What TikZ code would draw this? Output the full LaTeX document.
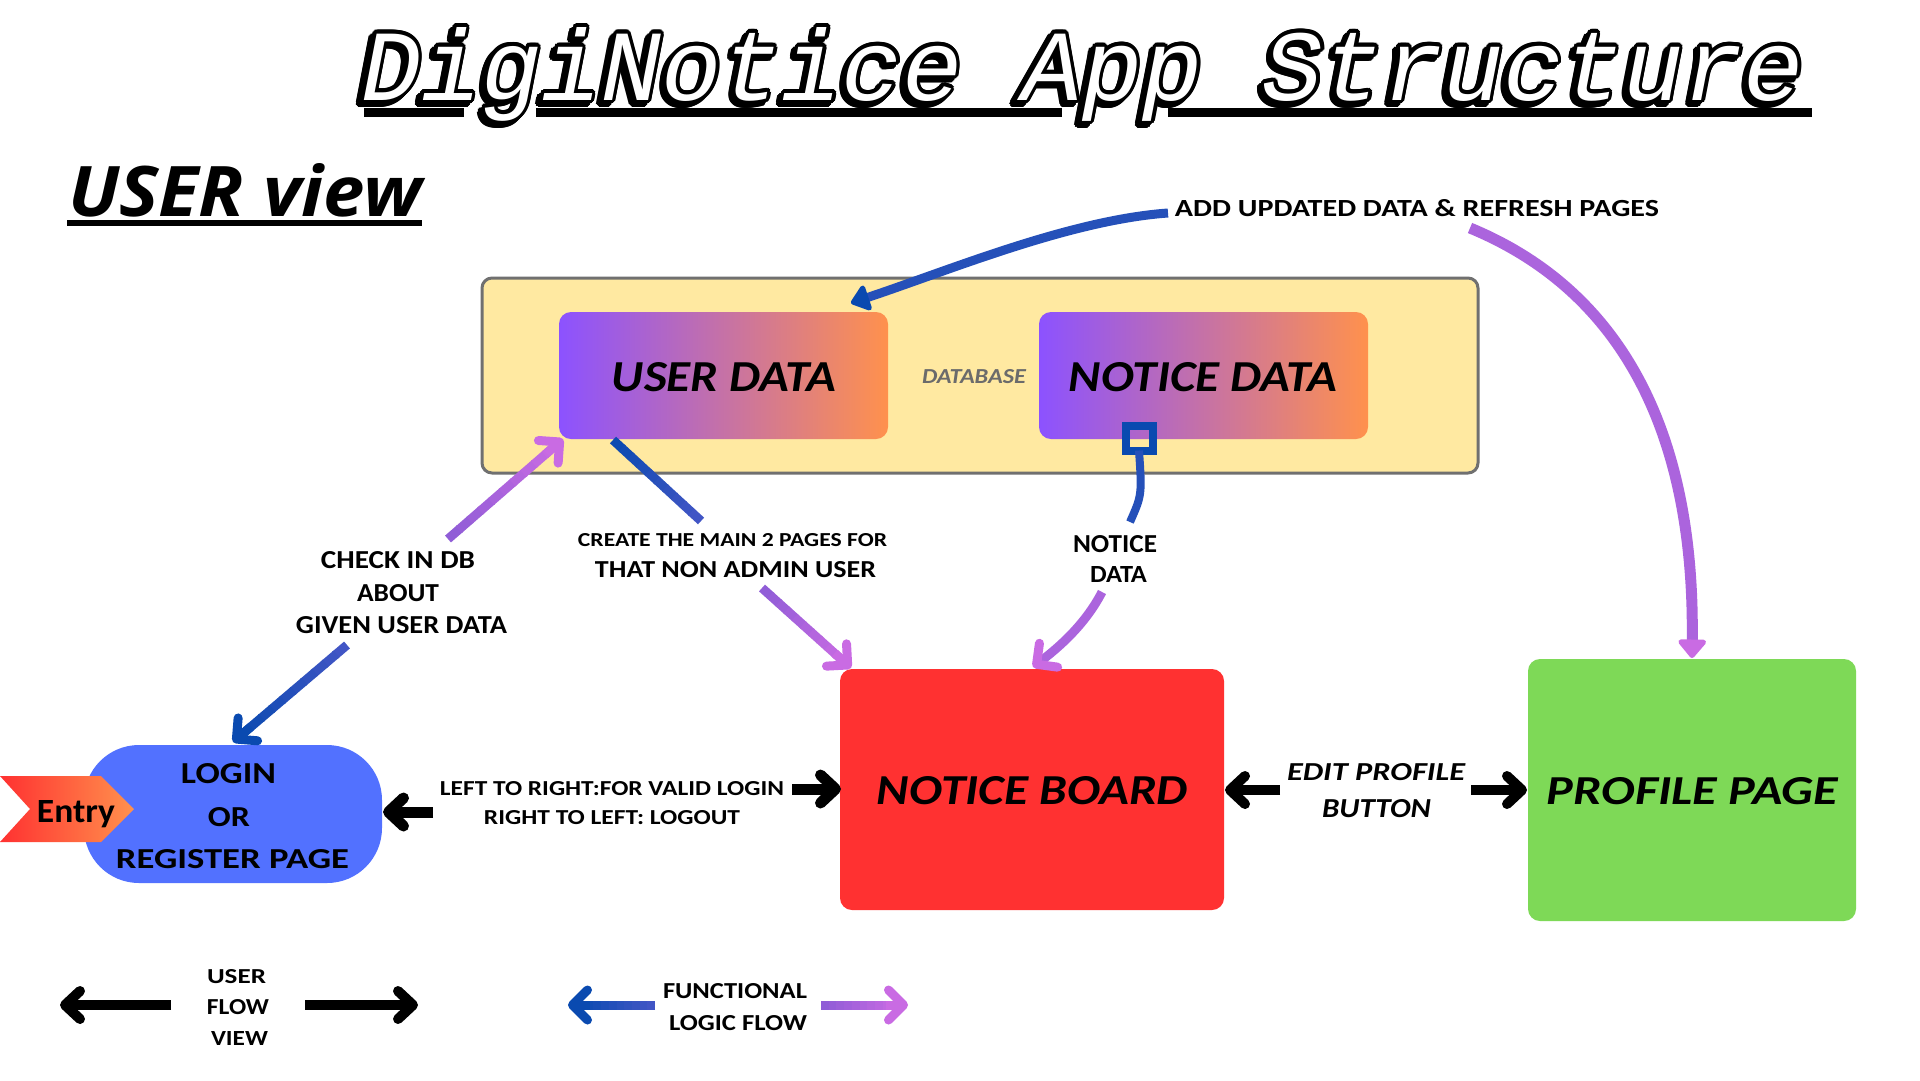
\documentclass[tikz,border=0pt]{standalone}
\usepackage{fontspec}
\usepackage{graphicx}
\usetikzlibrary{arrows.meta,calc}
\newfontfamily\fcal{Carlito}
\newfontfamily\fmono{Liberation Mono}
\newfontfamily\fopen{Open Sans}
\newcommand\FB{\fcal\bfseries}
\newcommand\FBI{\fcal\bfseries\itshape}
\definecolor{dbfill}{HTML}{FFE9A1}
\definecolor{dbgray}{HTML}{707070}
\definecolor{dbtext}{HTML}{6B6B6B}
\definecolor{gpurple}{HTML}{8C52FF}
\definecolor{gorange}{HTML}{FF914D}
\definecolor{nbred}{HTML}{FF3131}
\definecolor{ppgreen}{HTML}{7ED957}
\definecolor{lgblue}{HTML}{5271FF}
\definecolor{blueD}{HTML}{0A4AB0}
\definecolor{blueL}{HTML}{4456C6}
\definecolor{blueM}{HTML}{2550B9}
\definecolor{purA}{HTML}{8D5CD6}
\definecolor{purB}{HTML}{C96BE3}
\definecolor{purM}{HTML}{AB64DD}
\tikzset{
  txt/.style={anchor=base,inner sep=0pt,outer sep=0pt},
  box/.style={rectangle,inner sep=0pt,outer sep=0pt},
  blkarrow/.style={line width=11pt,draw=black,-{Straight Barb[length=15pt,width=28pt,round]}},
  barbtip/.style={-{Straight Barb[length=15pt,width=30pt,round]}},
}
\newcommand\lbl[6]{\node[txt] (#1) at (#2,#3) {\resizebox{#4pt}{#5pt}{#6}};}
\newcommand\gline[5]{%
  \foreach \i in {0,...,9}{%
    \pgfmathsetmacro\ta{\i/10}%
    \pgfmathsetmacro\tb{(\i+1)/10+0.012}%
    \pgfmathsetmacro\pc{95-\i*10}%
    \draw[line width=#5,draw={#3!\pc!#4}] ($(#1)!\ta!(#2)$) -- ($(#1)!\tb!(#2)$);
  }%
}
\newcommand\garrow[6]{%
  \coordinate (gtmp) at ($(#2)!10pt!(#1)$);
  \gline{#1}{gtmp}{#3}{#4}{#5}
  \draw[line width=#5,draw=#4,#6] ($(#2)!22pt!(#1)$) -- (#2);
}
\newcommand\TitleTxt{\resizebox{1443pt}{73pt}{\fmono\itshape\fontsize{100}{100}\selectfont DigiNotice App Structure}}
\begin{document}
\begin{tikzpicture}[x=1pt,y=-1pt]
\useasboundingbox (0,0) rectangle (1920,1080);
\fill[white] (0,0) rectangle (1920,1080);

% ---- title ----
\draw[line width=9pt] (364,112) -- (464,112);
\draw[line width=9pt] (536,112) -- (1062,112);
\draw[line width=9pt] (1168,112) -- (1812,112);
\foreach \a in {0,22.5,...,337.5}{\node[txt,anchor=base west,text=black] (tsh\a) at ($(357,104)+(\a:3.5)$) {\TitleTxt};}
\foreach \a in {0,22.5,...,337.5}{\node[txt,anchor=base west,text=black] (tol\a) at ($(361,100)+(\a:3.5)$) {\TitleTxt};}
\node[txt,anchor=base west,text=white] (title) at (361,100) {\TitleTxt};

% ---- USER view ----
\lbl{uview}{245}{216}{354}{53}{\fopen\bfseries\itshape USER view}
\draw[line width=6pt] (67,223) -- (422,223);

% ---- database ----
\node[box,fill=dbfill,draw=dbgray,line width=3pt,rounded corners=10pt,minimum width=996pt,minimum height=195pt] (db) at (980,375.5) {};
\node[box,left color=gpurple,right color=gorange,rounded corners=12pt,minimum width=329pt,minimum height=127pt] (ud) at (723.5,375.5) {};
\node[box,left color=gpurple,right color=gorange,rounded corners=12pt,minimum width=329pt,minimum height=127pt] (nd) at (1203.5,375.5) {};
\lbl{udl}{724}{391}{224}{29}{\FBI USER DATA}
\lbl{ndl}{1203}{391}{268}{29}{\FBI NOTICE DATA}
\lbl{dbl}{974}{383}{104}{14}{\color{dbtext}\FBI DATABASE}

% ---- main pages ----
\node[box,fill=nbred,rounded corners=12pt,minimum width=384pt,minimum height=241pt] (nb) at (1032,789.5) {};
\lbl{nbl}{1032.5}{804}{311}{28}{\FBI NOTICE BOARD}
\node[box,fill=ppgreen,rounded corners=12pt,minimum width=328pt,minimum height=262pt] (pp) at (1692,790) {};
\lbl{ppl}{1692.5}{804}{291}{27}{\FBI PROFILE PAGE}
\node[box,fill=lgblue,rounded corners=55pt,minimum width=298pt,minimum height=138pt] (login) at (233,814) {};
\lbl{lg1}{228.5}{783}{95}{20}{\FB LOGIN}
\lbl{lg2}{229}{826}{42}{19}{\FB OR}
\lbl{lg3}{232.5}{868}{233}{19}{\FB REGISTER PAGE}

% ---- entry tag ----
\path[left color=nbred,right color=gorange] (0,776) -- (101,776) -- (134,809) -- (101,842) -- (0,842) -- (30,809) -- cycle;
\lbl{entry}{76}{822}{78}{22}{\FB Entry}

% ---- labels ----
\lbl{add}{1417}{216}{484}{17}{\FB ADD UPDATED DATA \& REFRESH PAGES}
\lbl{ck1}{398}{568}{154}{17}{\FB CHECK IN DB}
\lbl{ck2}{398}{601}{82}{17}{\FB ABOUT}
\lbl{ck3}{401.5}{633}{211}{17}{\FB GIVEN USER DATA}
\lbl{cr1}{732.5}{546}{309}{13}{\FB CREATE THE MAIN 2 PAGES FOR}
\lbl{cr2}{735.5}{577}{281}{16}{\FB THAT NON ADMIN USER}
\lbl{nt1}{1115}{552}{84}{17}{\FB NOTICE}
\lbl{nt2}{1118.5}{582}{57}{16}{\FB DATA}
\lbl{lr1}{612}{795}{344}{14}{\FB LEFT TO RIGHT:FOR VALID LOGIN}
\lbl{lr2}{612}{824}{256}{14}{\FB RIGHT TO LEFT: LOGOUT}
\lbl{ep1}{1376}{780}{178}{17}{\FBI EDIT PROFILE}
\lbl{ep2}{1376.5}{817}{109}{18}{\FBI BUTTON}
\lbl{uf1}{236.5}{983}{59}{14}{\FB USER}
\lbl{uf2}{238}{1014}{62}{15}{\FB FLOW}
\lbl{uf3}{239.5}{1045}{57}{14}{\FB VIEW}
\lbl{fl1}{735}{998}{144}{15}{\FB FUNCTIONAL}
\lbl{fl2}{738}{1030}{138}{15}{\FB LOGIC FLOW}

% ---- connector end points ----
\coordinate (ckUpT) at (448,539);   \coordinate (ckUpH) at (563,439);
\coordinate (ckDnT) at (347,645);   \coordinate (ckDnH) at (233,742);
\coordinate (crBT) at (613,440);    \coordinate (crBH) at (700,520);
\coordinate (crPT) at (762,588);    \coordinate (crPH) at (851,668);
\coordinate (ntB) at (1130,522);
\coordinate (ntPT) at (1102,592);   \coordinate (ntPH) at (1033,667);
\coordinate (adBT) at (1168,213);   \coordinate (adBH) at (851,303);
\coordinate (adPT) at (1470,228);   \coordinate (adPH) at (1692,658);
\coordinate (lgA) at (433,812);     \coordinate (lgB) at (383,812);
\coordinate (nbA) at (792,789);     \coordinate (nbB) at (841,789);
\coordinate (epA) at (1280,790);    \coordinate (epB) at (1225,790);
\coordinate (epC) at (1471,790);    \coordinate (epD) at (1527,790);
\coordinate (lgd1) at (171,1005);   \coordinate (lgd2) at (60,1005);
\coordinate (lgd3) at (305,1005);   \coordinate (lgd4) at (418,1005);
\coordinate (lgd5) at (655,1005);   \coordinate (lgd6) at (568,1005);
\coordinate (lgd7) at (821,1005);   \coordinate (lgd8) at (908,1005);

% ---- black user-flow arrows ----
\draw[blkarrow] (lgA) -- (lgB);
\draw[blkarrow] (nbA) -- (nbB);
\draw[blkarrow,line width=10pt] (epA) -- (epB);
\draw[blkarrow,line width=10pt] (epC) -- (epD);
\draw[blkarrow,line width=10pt] (lgd1) -- (lgd2);
\draw[blkarrow,line width=10pt] (lgd3) -- (lgd4);

% ---- functional logic arrows ----
\garrow{ckUpT}{ckUpH}{purA}{purB}{9pt}{barbtip}
\garrow{ckDnT}{ckDnH}{blueL}{blueD}{9pt}{barbtip}
\gline{crBT}{crBH}{blueD}{blueL}{9pt}
\garrow{crPT}{crPH}{purA}{purB}{9pt}{barbtip}
\garrow{lgd5}{lgd6}{blueL}{blueD}{9pt}{barbtip}
\garrow{lgd7}{lgd8}{purA}{purB}{9pt}{barbtip}

\node[box,draw=blueD,line width=8pt,minimum width=27pt,minimum height=25pt] (sq) at (1139,438) {};
\draw[line width=8pt,draw=blueM] (sq.south) .. controls (1142,495) .. (ntB);
\draw[line width=9pt,draw=purM,-{Straight Barb[length=15pt,width=30pt,round,color=purB]}] (ntPT) .. controls (1085,625) and (1058,648) .. (ntPH);

\draw[line width=9pt,draw=blueM,-{Triangle[length=20pt,width=30pt,round,color=blueD]}] (adBT) .. controls (1070,220) and (950,270) .. (adBH);
\draw[line width=11pt,draw=purM,-{Triangle[length=20pt,width=32pt,round,color=purB]}] (adPT) .. controls (1620,290) and (1695,430) .. (adPH);
\end{tikzpicture}
\end{document}
